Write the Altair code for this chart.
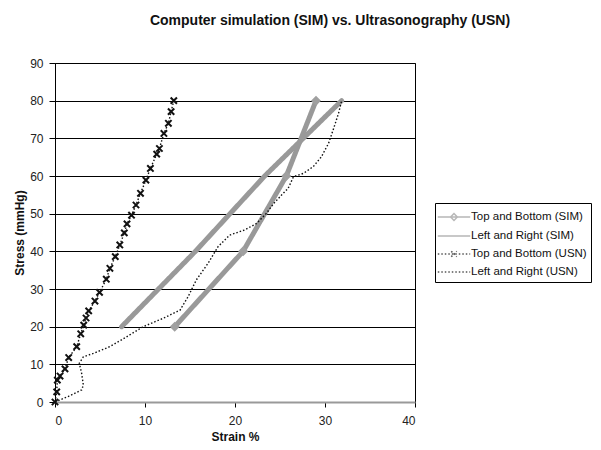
import altair as alt
import pandas as pd

series_names = ["Top and Bottom (SIM)", "Left and Right (SIM)",
                "Top and Bottom (USN)", "Left and Right (USN)"]

tb_sim_strain = [13.3, 20.9, 25.7, 29.0]
tb_sim_stress = [20, 40, 60, 80]

lr_sim_strain = [7.4, 15.6, 23.3, 31.85]
lr_sim_stress = [20, 40, 60, 80]

tb_usn_strain = [0.0, 0.19, 0.26, 0.56, 1.11, 1.52, 2.41, 2.86, 3.19, 3.45, 3.74,
                 4.44, 4.95, 5.7, 6.1, 6.7, 7.2, 7.7, 8.0, 8.5, 9.0, 9.5, 10.1,
                 10.6, 11.3, 11.6, 12.1, 12.6, 12.9, 13.2]
tb_usn_stress = [0.0, 2.7, 5.8, 6.9, 8.8, 11.8, 14.7, 18.1, 20.4, 22.3, 24.2,
                 26.8, 29.1, 32.6, 35.5, 38.6, 41.7, 44.9, 47.3, 49.6, 52.3, 55.4,
                 58.9, 62.0, 65.8, 67.3, 71.3, 74.0, 77.1, 80.0]

lr_usn_strain = [0.0, 1.5, 2.96, 3.15, 2.96, 2.7, 3.15, 4.26, 6.1, 7.4, 8.3, 9.8,
                 12.0, 13.9, 14.8, 15.7, 17.0, 18.1, 19.4, 21.1, 22.4, 23.5, 24.3,
                 25.2, 25.9, 26.5, 27.6, 28.7, 29.6, 30.4, 30.9, 31.5, 31.85]
lr_usn_stress = [0.0, 1.5, 3.2, 4.5, 7.6, 10.3, 12.0, 12.9, 14.7, 16.5, 17.8, 20.0,
                 22.2, 24.4, 28.0, 32.4, 36.8, 41.2, 44.3, 45.7, 47.4, 50.1, 52.7,
                 55.0, 56.7, 59.8, 60.7, 62.5, 65.1, 68.7, 72.2, 76.6, 80.0]

x_ticks = [0, 10, 20, 30, 40]
y_ticks = [0, 10, 20, 30, 40, 50, 60, 70, 80, 90]

rows = []
for name, xs, ys in [(series_names[0], tb_sim_strain, tb_sim_stress),
                     (series_names[1], lr_sim_strain, lr_sim_stress),
                     (series_names[2], tb_usn_strain, tb_usn_stress),
                     (series_names[3], lr_usn_strain, lr_usn_stress)]:
    for i, (a, b) in enumerate(zip(xs, ys)):
        rows.append({"series": name, "strain": a, "stress": b, "idx": i})
df = pd.DataFrame(rows)

FONT = "Liberation Sans"

color_scale = alt.Scale(domain=series_names,
                        range=["#999999", "#999999", "#111111", "#111111"])
dash_scale = alt.Scale(domain=series_names,
                       range=[[1, 0], [1, 0], [1.5, 2], [1.5, 2]])
shape_scale = alt.Scale(domain=series_names, range=[
    "M-1.8,0H1.8M0,-0.38L0.38,0L0,0.38L-0.38,0Z",
    "M-1.8,0H1.8",
    "M-1.8,0H1.8M-0.3,-0.3L0.3,0.3M-0.3,0.3L0.3,-0.3",
    "M-1.8,0H1.8",
])

legend = alt.Legend(title=None, orient="none", legendX=380, legendY=140,
                    symbolSize=324, symbolStrokeWidth=1.5, symbolOffset=5,
                    labelFont=FONT, labelFontSize=11.5, labelColor="#111111",
                    labelOffset=7, strokeColor="black", fillColor="white",
                    padding=4, rowPadding=2, cornerRadius=0, labelLimit=200)

x_axis = alt.Axis(values=x_ticks, title="Strain %", grid=False,
                  domainColor="#999999", domainWidth=2,
                  tickColor="black", tickSize=5, labelPadding=8,
                  labelFont=FONT, labelFontSize=12, labelColor="#222222",
                  labelOverlap=False,
                  titleFont=FONT, titleFontSize=12, titleFontWeight="bold",
                  titleColor="#111111", titlePadding=5)
y_axis = alt.Axis(values=y_ticks, title="Stress (mmHg)", grid=True,
                  gridColor="black", gridWidth=1,
                  domainColor="black", domainWidth=1,
                  tickColor="black", tickSize=6, labelPadding=6,
                  labelFont=FONT, labelFontSize=12, labelColor="#222222",
                  labelOverlap=False,
                  titleFont=FONT, titleFontSize=12, titleFontWeight="bold",
                  titleColor="#111111", titlePadding=3)

x_enc = alt.X("strain:Q", scale=alt.Scale(domain=[0, 40]), axis=x_axis)
y_enc = alt.Y("stress:Q", scale=alt.Scale(domain=[0, 90]), axis=y_axis)

base = alt.Chart(df)

legend_layer = base.transform_filter("false").mark_point(filled=False).encode(
    x=x_enc, y=y_enc,
    color=alt.Color("series:N", scale=color_scale, legend=legend),
    shape=alt.Shape("series:N", scale=shape_scale, legend=legend),
    strokeDash=alt.StrokeDash("series:N", scale=dash_scale, legend=legend),
)

sim_lines = base.transform_filter(
    alt.FieldOneOfPredicate(field="series", oneOf=series_names[:2])
).mark_line(strokeWidth=5, strokeCap="round").encode(
    x=x_enc, y=y_enc,
    color=alt.Color("series:N", scale=color_scale, legend=None),
    strokeDash=alt.StrokeDash("series:N", scale=dash_scale, legend=None),
    order="idx:Q",
)

usn_lines = base.transform_filter(
    alt.FieldOneOfPredicate(field="series", oneOf=series_names[2:])
).mark_line(strokeWidth=1.4).encode(
    x=x_enc, y=y_enc,
    color=alt.Color("series:N", scale=color_scale, legend=None),
    strokeDash=alt.StrokeDash("series:N", scale=dash_scale, legend=None),
    order="idx:Q",
)

diamonds = base.transform_filter(
    alt.datum.series == series_names[0]
).mark_point(shape="diamond", filled=True, size=100, color="#a0a0a0", opacity=1).encode(
    x=x_enc, y=y_enc,
)

crosses = base.transform_filter(
    alt.datum.series == series_names[2]
).mark_point(shape="M-1,-1L1,1M-1,1L1,-1", filled=False, size=40,
             strokeWidth=2, color="#111111", opacity=1).encode(
    x=x_enc, y=y_enc,
)

chart = alt.layer(legend_layer, sim_lines, usn_lines, diamonds, crosses).properties(
    width=360, height=339,
    padding={"left": 47, "top": 55, "right": 178, "bottom": 40},
    autosize=alt.AutoSizeParams(type="none"),
    title=alt.TitleParams(
        text="Computer simulation (SIM) vs. Ultrasonography (USN)",
        font=FONT, fontSize=14, fontWeight="bold", color="#111111",
        anchor="middle", frame="group", dx=95, offset=29),
).configure_view(stroke="black", strokeWidth=1)

chart.save("out.html", embed_options={"renderer": "svg", "actions": False})
